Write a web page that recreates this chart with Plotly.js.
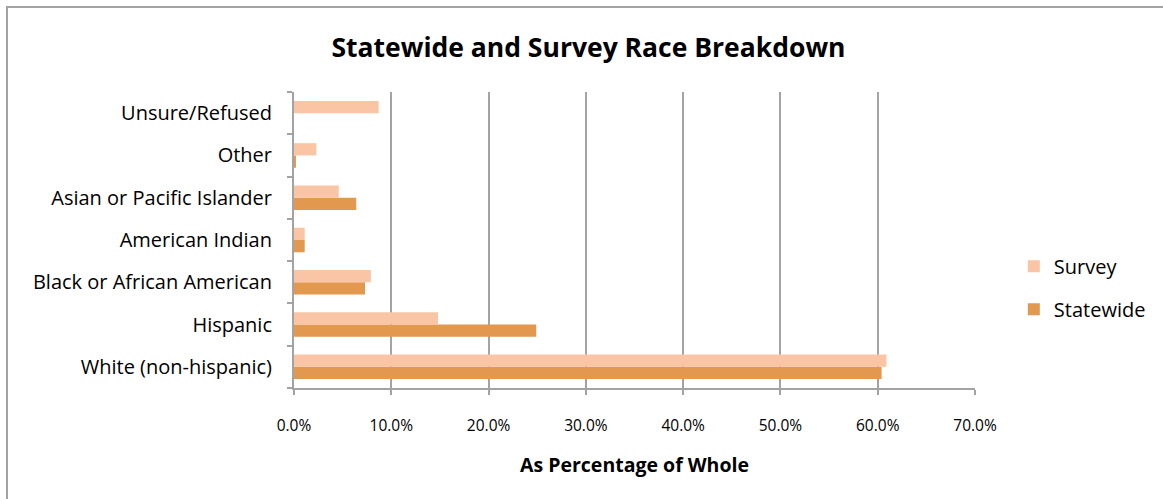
<!DOCTYPE html>
<html>
<head>
<meta charset="utf-8">
<script src="https://cdn.plot.ly/plotly-3.0.1.min.js"></script>
<style>
  html, body { margin: 0; padding: 0; background: #ffffff; overflow: hidden; }
  #wrap { position: relative; width: 1163px; height: 499px; }
  #chart { position: absolute; left: 0; top: 0; width: 1163px; height: 499px; }
  #frame {
    position: absolute; left: 6px; top: 6px; width: 1200px; height: 600px;
    border-left: 2px solid #a3a3a3; border-top: 2px solid #a3a3a3;
    pointer-events: none;
  }
</style>
</head>
<body>
<div id="wrap">
  <div id="chart"></div>
  <div id="frame"></div>
</div>
<script>
// Race categories, listed bottom to top as drawn on the category axis
const categories = [
  'White (non-hispanic)',
  'Hispanic',
  'Black or African American',
  'American Indian',
  'Asian or Pacific Islander',
  'Other',
  'Unsure/Refused'
];

// Share of the whole, in percent
const surveyValues    = [60.9, 14.8, 7.9, 1.1, 4.6, 2.3, 8.7];
const statewideValues = [60.4, 24.9, 7.3, 1.1, 6.4, 0.2, null];

const xTickValues = [0, 10, 20, 30, 40, 50, 60, 70];

const fontFamily = '"Open Sans", Lato, "DejaVu Sans", sans-serif';
const gridGray = '#a3a3a3';

// Statewide is drawn first so it sits in the lower slot of each category;
// legendrank puts Survey on top in the legend.
const traces = [
  {
    type: 'bar',
    orientation: 'h',
    name: 'Statewide',
    legendgroup: 'statewide',
    legendrank: 2,
    y: categories,
    x: statewideValues,
    marker: { color: '#e3984f', line: { width: 0 } },
    hoverinfo: 'x+y+name'
  },
  {
    type: 'bar',
    orientation: 'h',
    name: 'Survey',
    legendgroup: 'survey',
    legendrank: 1,
    y: categories,
    x: surveyValues,
    marker: { color: '#f9c5a4', line: { width: 0 } },
    hoverinfo: 'x+y+name'
  }
];

const layout = {
  width: 1163,
  height: 499,
  paper_bgcolor: 'rgba(0,0,0,0)',
  plot_bgcolor: 'rgba(0,0,0,0)',
  margin: { l: 294, r: 188, t: 92, b: 111, pad: 0, autoexpand: false },
  barmode: 'group',
  bargap: 0.42,
  bargroupgap: 0,
  font: { family: fontFamily, color: '#000000' },
  title: {
    text: '<b>Statewide and Survey Race Breakdown</b>',
    font: { family: fontFamily, size: 26.5, color: '#000000' },
    x: 0.506,
    xref: 'container',
    xanchor: 'center',
    y: 0.905,
    yref: 'container',
    yanchor: 'middle'
  },
  xaxis: {
    range: [0, 70],
    tickmode: 'array',
    tickvals: xTickValues,
    ticktext: xTickValues.map(v => v.toFixed(1) + '%'),
    showgrid: true,
    gridcolor: gridGray,
    gridwidth: 2,
    zeroline: false,
    showline: true,
    linecolor: gridGray,
    linewidth: 2,
    ticks: 'outside',
    ticklen: 5,
    tickwidth: 2,
    tickcolor: gridGray,
    ticklabelstandoff: 17,
    tickfont: { family: fontFamily, size: 15.5, color: '#000000' },
    title: {
      text: '<b>As Percentage of Whole</b>',
      font: { family: fontFamily, size: 19.5, color: '#000000' },
      standoff: 24
    },
    automargin: false,
    fixedrange: true
  },
  yaxis: {
    type: 'category',
    categoryorder: 'array',
    categoryarray: categories,
    showgrid: false,
    zeroline: false,
    showline: true,
    linecolor: gridGray,
    linewidth: 2,
    ticks: 'outside',
    tickson: 'boundaries',
    ticklen: 5,
    tickwidth: 2,
    tickcolor: gridGray,
    ticklabelstandoff: 16,
    tickfont: { family: fontFamily, size: 20, color: '#000000' },
    automargin: false,
    fixedrange: true
  },
  showlegend: true,
  legend: {
    x: 1.057,
    xanchor: 'left',
    y: 0.477,
    yanchor: 'top',
    traceorder: 'grouped',
    tracegroupgap: 14,
    itemwidth: 30,
    font: { family: fontFamily, size: 20, color: '#000000' },
    bgcolor: 'rgba(0,0,0,0)'
  }
};

Plotly.newPlot('chart', traces, layout, { displayModeBar: false, staticPlot: true });
</script>
</body>
</html>
